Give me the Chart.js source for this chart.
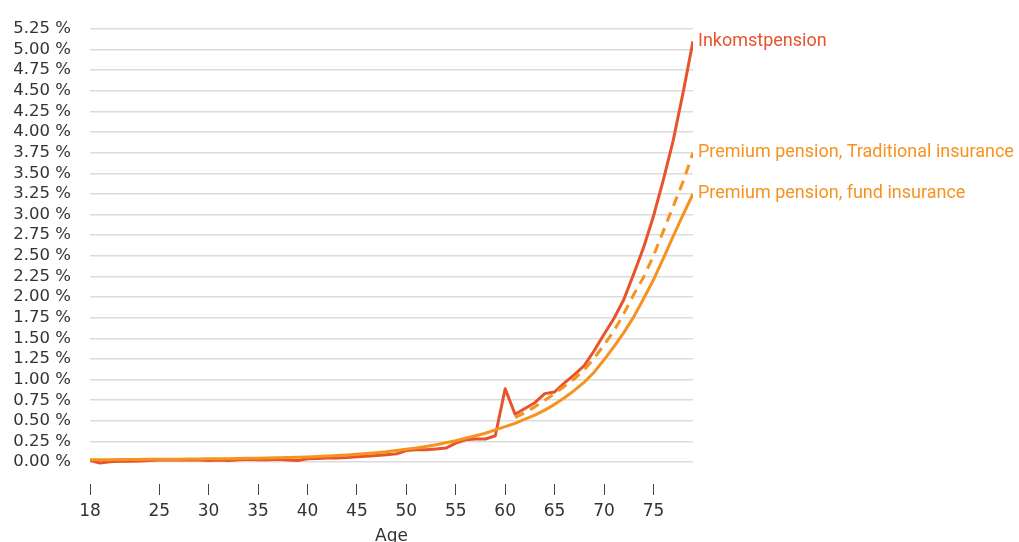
<!DOCTYPE html>
<html>
<head>
<meta charset="utf-8">
<script src="https://cdn.jsdelivr.net/npm/chart.js@4/dist/chart.umd.min.js"></script>
<style>
  body { margin: 0; background: #fff; }
  #wrap { width: 1019px; height: 542px; }
</style>
</head>
<body>
<div id="wrap"><canvas id="chart" width="1019" height="542"></canvas></div>
<script>
// ages 18..79
const ages = [];
for (let a = 18; a <= 79; a++) ages.push(a);

const xTicks = [18, 25, 30, 35, 40, 45, 50, 55, 60, 65, 70, 75];

// values in percent, one row = 10 ages (18-27, 28-37, ...)
const inkomstpension = [
  0.02, -0.01, 0.005, 0.01, 0.01, 0.015, 0.02, 0.025, 0.025, 0.025,
  0.025, 0.025, 0.02, 0.025, 0.02, 0.03, 0.035, 0.03, 0.03, 0.035,
  0.025, 0.02, 0.04, 0.045, 0.05, 0.05, 0.055, 0.065, 0.07, 0.08,
  0.09, 0.10, 0.14, 0.15, 0.15, 0.16, 0.17, 0.23, 0.27, 0.28,
  0.28, 0.32, 0.89, 0.58, 0.65, 0.72, 0.83, 0.85, 0.96, 1.06,
  1.17, 1.35, 1.55, 1.74, 1.97, 2.28, 2.60, 2.98, 3.42, 3.90,
  4.48, 5.10
];

const traditional = [
  null, null, null, null, null, null, null, null, null, null,
  null, null, null, null, null, null, null, null, null, null,
  null, null, null, null, null, null, null, null, null, null,
  null, null, null, null, null, null, null, null, null, null,
  null, null, null, 0.54, 0.60, 0.67, 0.75, 0.83, 0.92, 1.01,
  1.12, 1.26, 1.42, 1.59, 1.80, 2.03, 2.24, 2.50, 2.80, 3.10,
  3.40, 3.75
];

const fund = [
  0.03, 0.03, 0.03, 0.031, 0.032, 0.033, 0.034, 0.035, 0.035, 0.036,
  0.037, 0.038, 0.04, 0.041, 0.042, 0.044, 0.046, 0.048, 0.05, 0.052,
  0.055, 0.058, 0.062, 0.067, 0.073, 0.08, 0.087, 0.095, 0.105, 0.115,
  0.125, 0.14, 0.155, 0.17, 0.19, 0.21, 0.235, 0.26, 0.29, 0.32,
  0.35, 0.39, 0.43, 0.47, 0.52, 0.57, 0.63, 0.70, 0.78, 0.87,
  0.97, 1.09, 1.24, 1.40, 1.57, 1.76, 1.98, 2.21, 2.47, 2.74,
  3.00, 3.25
];

const seriesNames = ["Inkomstpension", "Premium pension, Traditional insurance", "Premium pension, fund insurance"];
const red = "#e8532b";
const orange = "#f7921e";

const yTicks = [];
for (let i = 0; i <= 21; i++) yTicks.push(i * 0.25);

const toPoints = arr => ages.map((a, i) => ({ x: a, y: arr[i] }));

// names at the end of each line
const endLabels = {
  id: "endLabels",
  afterDatasetsDraw(chart) {
    const c = chart.ctx;
    c.save();
    c.font = "18px Roboto";
    c.textBaseline = "middle";
    c.textAlign = "left";
    chart.data.datasets.forEach((ds, i) => {
      const meta = chart.getDatasetMeta(i);
      const last = meta.data[meta.data.length - 1];
      c.fillStyle = ds.labelColor;
      c.fillText(ds.label, last.x + 5, last.y);
    });
    c.restore();
  }
};

new Chart(document.getElementById("chart"), {
  type: "line",
  data: {
    datasets: [
      { label: seriesNames[0], data: toPoints(inkomstpension), borderColor: red, labelColor: red, borderWidth: 3, order: 2 },
      { label: seriesNames[1], data: toPoints(traditional), borderColor: orange, labelColor: orange, borderWidth: 3, borderDash: [10, 7], order: 1 },
      { label: seriesNames[2], data: toPoints(fund), borderColor: orange, labelColor: orange, borderWidth: 3, order: 0 }
    ]
  },
  options: {
    responsive: false,
    animation: false,
    layout: { padding: { top: 25, right: 326, left: 0, bottom: 0 } },
    elements: { point: { radius: 0 }, line: { tension: 0, borderJoinStyle: "round" } },
    plugins: { legend: { display: false }, tooltip: { enabled: false } },
    scales: {
      x: {
        type: "linear",
        min: 18,
        max: 79,
        afterBuildTicks: s => { s.ticks = xTicks.map(v => ({ value: v })); },
        afterFit: s => { s.height = 58; },
        grid: { drawOnChartArea: false, drawTicks: true, tickLength: 11, color: "#444" },
        border: { display: false },
        ticks: { color: "#333", font: { family: "DejaVu Sans", size: 17 }, padding: 6, maxRotation: 0, autoSkip: false },
        title: { display: true, text: "Age", color: "#333", font: { family: "DejaVu Sans", size: 17, lineHeight: 0.6 }, padding: 0 }
      },
      y: {
        min: -0.265,
        max: 5.25,
        afterBuildTicks: s => { s.ticks = yTicks.map(v => ({ value: v })); },
        afterFit: s => { s.width = 90; },
        grid: { color: "#dcdcdc", lineWidth: 1.5, drawTicks: false },
        border: { display: false },
        ticks: {
          color: "#333",
          font: { family: "DejaVu Sans", size: 16.5 },
          padding: 19,
          autoSkip: false,
          callback: v => v.toFixed(2) + " %"
        }
      }
    }
  },
  plugins: [endLabels]
});
</script>
</body>
</html>
